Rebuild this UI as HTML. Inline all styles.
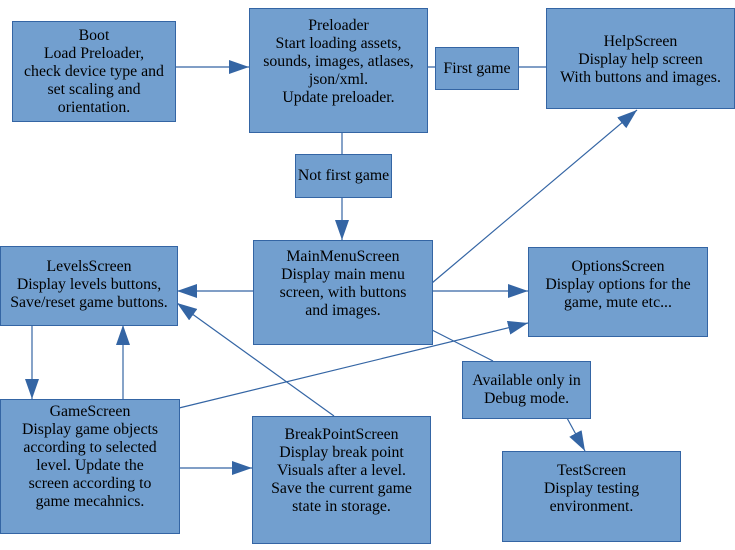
<!DOCTYPE html>
<html><head><style>
body{margin:0;width:735px;height:550px;background:#fff;position:relative;overflow:hidden;font-family:"Liberation Serif",serif;}
.b{position:absolute;background:#729fcf;border:1px solid #3465a4;box-sizing:border-box;display:flex;flex-direction:column;align-items:center;justify-content:center;text-align:center;font-size:15.8px;line-height:18px;color:#000;white-space:nowrap;}
svg{position:absolute;left:0;top:0;}
</style></head><body>
<svg width="735" height="550">
<defs>
<marker id="m" viewBox="0 0 20 14" refX="20" refY="7" markerWidth="20" markerHeight="14" orient="auto" markerUnits="userSpaceOnUse"><path d="M0,0 L20,7 L0,14 z" fill="#3465a4"/></marker></defs>
<g stroke="#3465a4" stroke-width="1.2" fill="none">
<line x1="175" y1="67" x2="249" y2="67" marker-end="url(#m)"/>
<line x1="427" y1="67" x2="546" y2="67"/>
<line x1="342" y1="132" x2="342" y2="154"/>
<line x1="342" y1="197" x2="342" y2="240" marker-end="url(#m)"/>
<line x1="253" y1="291" x2="177" y2="291" marker-end="url(#m)"/>
<line x1="432" y1="291" x2="528" y2="291" marker-end="url(#m)"/>
<line x1="432" y1="283" x2="637" y2="110" marker-end="url(#m)"/>
<line x1="432" y1="330" x2="493" y2="361"/>
<line x1="567" y1="418" x2="585" y2="451" marker-end="url(#m)"/>
<line x1="32" y1="325" x2="32" y2="399" marker-end="url(#m)"/>
<line x1="123" y1="399" x2="123" y2="325" marker-end="url(#m)"/>
<line x1="179" y1="408" x2="528" y2="323" marker-end="url(#m)"/>
<line x1="334" y1="416" x2="177" y2="303" marker-end="url(#m)"/>
<line x1="179" y1="468" x2="252" y2="468" marker-end="url(#m)"/>
</g></svg>
<div class="b" style="left:12px;top:21px;width:164px;height:101px">Boot<br>Load Preloader,<br>check device type and<br>set scaling and<br>orientation.</div>
<div class="b" style="left:249px;top:8px;width:179px;height:125px;justify-content:flex-start;padding-top:8px">Preloader<br>Start loading assets,<br>sounds, images, atlases,<br>json/xml.<br>Update preloader.</div>
<div class="b" style="left:435px;top:47px;width:84px;height:43px">First game</div>
<div class="b" style="left:546px;top:8px;width:189px;height:101px;justify-content:flex-start;padding-top:24px">HelpScreen<br>Display help screen<br>With buttons and images.</div>
<div class="b" style="left:295px;top:154px;width:97px;height:44px">Not first game</div>
<div class="b" style="left:253px;top:240px;width:180px;height:105px;justify-content:flex-start;padding-top:7px">MainMenuScreen<br>Display main menu<br>screen, with buttons<br>and images.</div>
<div class="b" style="left:0px;top:246px;width:178px;height:80px;justify-content:flex-start;padding-top:11px">LevelsScreen<br>Display levels buttons,<br>Save/reset game buttons.</div>
<div class="b" style="left:528px;top:247px;width:180px;height:90px;justify-content:flex-start;padding-top:10px">OptionsScreen<br>Display options for the<br>game, mute etc...</div>
<div class="b" style="left:462px;top:361px;width:129px;height:58px">Available only in<br>Debug mode.</div>
<div class="b" style="left:0px;top:399px;width:180px;height:135px;justify-content:flex-start;padding-top:3px">GameScreen<br>Display game objects<br>according to selected<br>level. Update the<br>screen according to<br>game mecahnics.</div>
<div class="b" style="left:252px;top:416px;width:179px;height:128px;justify-content:flex-start;padding-top:9px">BreakPointScreen<br>Display break point<br>Visuals after a level.<br>Save the current game<br>state in storage.</div>
<div class="b" style="left:502px;top:451px;width:179px;height:91px;justify-content:flex-start;padding-top:10px">TestScreen<br>Display testing<br>environment.</div>
</body></html>
